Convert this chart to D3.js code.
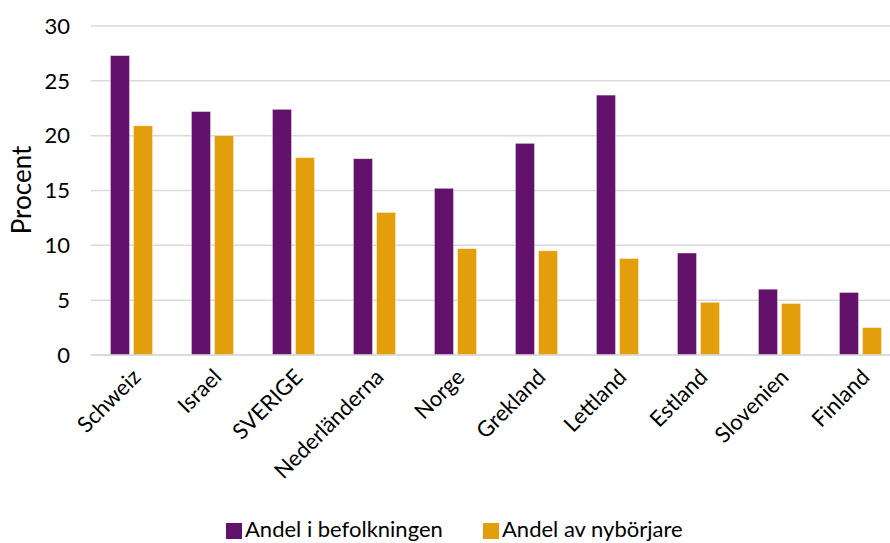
<!DOCTYPE html>
<html>
<head>
<meta charset="utf-8">
<script src="https://cdn.jsdelivr.net/npm/d3@7"></script>
<style>
  body { margin: 0; background: #fff; }
  svg { display: block; font-family: Lato, "Open Sans", sans-serif; }
</style>
</head>
<body>
<div id="chart"></div>
<script>
const countries = ['Schweiz', 'Israel', 'SVERIGE', 'Nederländerna', 'Norge', 'Grekland', 'Lettland', 'Estland', 'Slovenien', 'Finland'];
const seriesNames = ['Andel i befolkningen', 'Andel av nybörjare'];
const befolkning = [27.3, 22.2, 22.4, 17.9, 15.2, 19.3, 23.7, 9.3, 6.0, 5.7];
const nyborjare = [20.9, 20.0, 18.0, 13.0, 9.7, 9.5, 8.8, 4.8, 4.7, 2.5];
const yTicks = [0, 5, 10, 15, 20, 25, 30];
const colors = ['#63126c', '#e39e0b'];

const width = 890;
const height = 543;
const margin = { top: 26, bottom: 188, left: 91, right: -11 };

const svg = d3.select('#chart')
  .append('svg')
  .attr('width', width)
  .attr('height', height);

const x = d3.scaleBand()
  .domain(countries)
  .range([margin.left, width - margin.right])
  .paddingInner(0.48)
  .paddingOuter(0.24);

const x1 = d3.scaleBand()
  .domain(seriesNames)
  .range([0, x.bandwidth()])
  .paddingInner(0.174);

const y = d3.scaleLinear()
  .domain([0, 30])
  .range([height - margin.bottom, margin.top]);

// gridlines
svg.append('g')
  .selectAll('line')
  .data(yTicks)
  .join('line')
    .attr('x1', margin.left)
    .attr('x2', width)
    .attr('y1', d => y(d))
    .attr('y2', d => y(d))
    .attr('stroke', '#d9d9d9')
    .attr('stroke-width', 1.5);

// y tick labels
svg.append('g')
  .selectAll('text')
  .data(yTicks)
  .join('text')
    .attr('x', 70)
    .attr('y', d => y(d))
    .attr('dy', '0.35em')
    .attr('text-anchor', 'end')
    .attr('font-size', '22px')
    .attr('fill', '#000')
    .text(d => d);

// y title
svg.append('text')
  .attr('transform', 'translate(31,190) rotate(-90)')
  .attr('text-anchor', 'middle')
  .attr('font-size', '26px')
  .text('Procent');

const rows = countries.map((c, i) => ({
  country: c,
  values: [befolkning[i], nyborjare[i]]
}));

const groups = svg.append('g')
  .selectAll('g')
  .data(rows)
  .join('g')
    .attr('transform', d => `translate(${x(d.country)},0)`);

groups.selectAll('rect')
  .data(d => d.values.map((v, j) => ({ key: seriesNames[j], value: v, idx: j })))
  .join('rect')
    .attr('x', d => x1(d.key))
    .attr('y', d => y(d.value))
    .attr('width', x1.bandwidth())
    .attr('height', d => y(0) - y(d.value))
    .attr('fill', d => colors[d.idx])
    .attr('stroke', '#fff')
    .attr('stroke-opacity', 0.5)
    .attr('stroke-width', 0.75);

// baseline
svg.append('line')
  .attr('x1', margin.left)
  .attr('x2', width)
  .attr('y1', y(0))
  .attr('y2', y(0))
  .attr('stroke', '#d9d9d9')
  .attr('stroke-width', 1.5);

// x labels
svg.append('g')
  .selectAll('text')
  .data(countries)
  .join('text')
    .attr('transform', d => `translate(${x(d) + x.bandwidth() / 2 + 5},373) rotate(-45)`)
    .attr('text-anchor', 'end')
    .attr('dy', '0.35em')
    .attr('font-size', '22px')
    .text(d => d);

// legend
const legendX = [226, 483];
const legend = svg.append('g')
  .selectAll('g')
  .data(seriesNames)
  .join('g')
    .attr('transform', (d, i) => `translate(${legendX[i]},518)`);

legend.append('rect')
  .attr('y', 5)
  .attr('width', 16)
  .attr('height', 16)
  .attr('fill', (d, i) => colors[i]);

legend.append('text')
  .attr('x', 19)
  .attr('y', 19)
  .attr('font-size', '22px')
  .text(d => d);
</script>
</body>
</html>
